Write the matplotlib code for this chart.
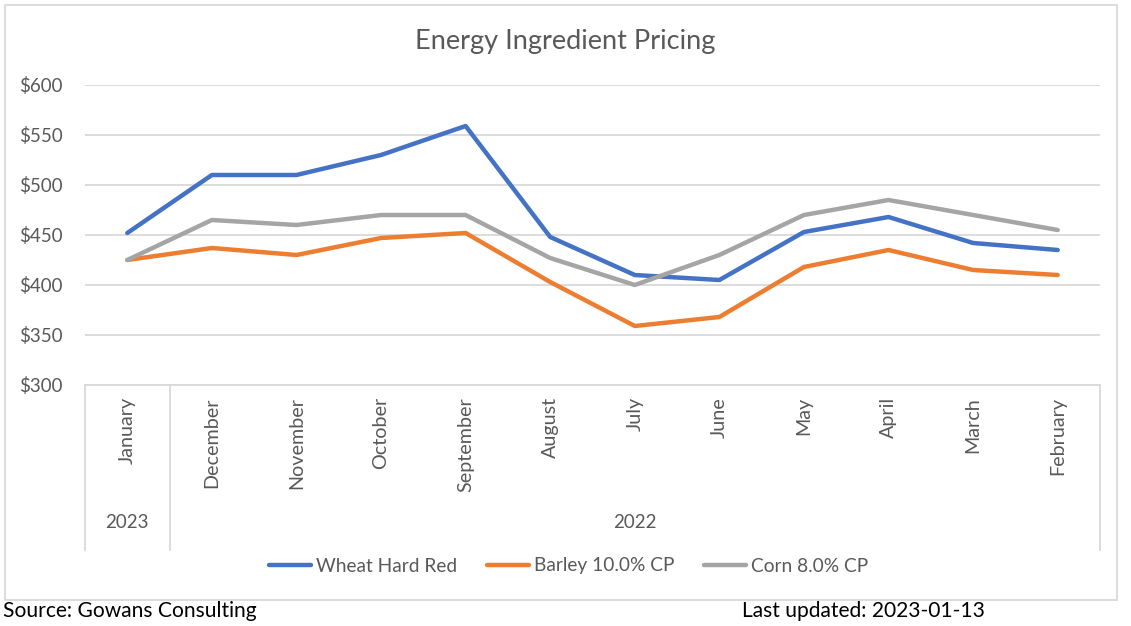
import matplotlib.pyplot as plt
from matplotlib.patches import Rectangle
from matplotlib.lines import Line2D

months = ['January', 'December', 'November', 'October', 'September', 'August',
          'July', 'June', 'May', 'April', 'March', 'February']
years = ['2023', '2022']
year_spans = [(0, 0), (1, 11)]

wheat = [452, 510, 510, 530, 559, 448, 410, 405, 453, 468, 442, 435]
barley = [425, 437, 430, 447, 452, 403, 359, 368, 418, 435, 415, 410]
corn = [425, 465, 460, 470, 470, 427, 400, 430, 470, 485, 470, 455]

plt.rcParams['font.family'] = ['Lato', 'DejaVu Sans']
grey_txt = '#595959'
grid_c = '#d9d9d9'

W, H = 1131, 626
fig = plt.figure(figsize=(W / 100, H / 100), dpi=100)

# plot area in pixels: x 85..1100, y 85..385
px_l, px_r, px_t, px_b = 85, 1100, 85, 385
ax = fig.add_axes([px_l / W, 1 - px_b / H, (px_r - px_l) / W, (px_b - px_t) / H])

x = list(range(len(months)))
ax.plot(x, wheat, color='#4472C4', lw=3.2, solid_capstyle='round', label='Wheat Hard Red')
ax.plot(x, barley, color='#ED7D31', lw=3.2, solid_capstyle='round', label='Barley 10.0% CP')
ax.plot(x, corn, color='#A5A5A5', lw=3.2, solid_capstyle='round', label='Corn 8.0% CP')

ax.set_xlim(-0.5, len(months) - 0.5)
ax.set_ylim(300, 600)
ax.set_yticks(range(300, 601, 50))
ax.set_yticklabels(['$' + str(v) for v in range(300, 601, 50)], color=grey_txt, fontsize=13.5)
ax.grid(axis='y', color=grid_c, lw=1.3)
ax.set_axisbelow(True)
ax.tick_params(axis='y', length=0, pad=16)
ax.tick_params(axis='x', length=0, labelbottom=False)
for s in ['top', 'right', 'left']:
    ax.spines[s].set_visible(False)
ax.spines['bottom'].set_color(grid_c)
ax.spines['bottom'].set_linewidth(1.3)

plot_h = px_b - px_t
for i, m in enumerate(months):
    ax.text(i, -12 / plot_h, m, transform=ax.get_xaxis_transform(), rotation=90,
            ha='center', va='top', color=grey_txt, fontsize=14.2)

# year group labels and separators
sep_bottom = -(550 - px_b) / plot_h
for (a, b), yr in zip(year_spans, years):
    ax.text((a + b) / 2, -(523 - px_b) / plot_h, yr, transform=ax.get_xaxis_transform(),
            ha='center', va='center', color=grey_txt, fontsize=13.5)
for xs in [-0.5, 0.5, len(months) - 0.5]:
    ax.add_line(Line2D([xs, xs], [0, sep_bottom], transform=ax.get_xaxis_transform(),
                       color=grid_c, lw=1.3, clip_on=False))

fig.text(0.5, 1 - 41 / H, 'Energy Ingredient Pricing', ha='center', va='center',
         color=grey_txt, fontsize=19.5)

fig.legend(loc='center', bbox_to_anchor=(0.503, 1 - 566 / H), ncol=3, frameon=False,
           fontsize=13.8, handlelength=2.2, handletextpad=0.25, columnspacing=1.55,
           labelcolor=grey_txt)

fig.patches.append(Rectangle((5 / W, 1 - 600 / H), 1112 / W, 595 / H, transform=fig.transFigure,
                             fill=False, edgecolor=grid_c, lw=1.3))

fig.text(3 / W, 1 - 611 / H, 'Source: Gowans Consulting', ha='left', va='center',
         fontsize=15.1, color='black')
fig.text(742 / W, 1 - 611 / H, 'Last updated: 2023-01-13', ha='left', va='center',
         fontsize=15.1, color='black')

fig.savefig('out.png', dpi=100)
